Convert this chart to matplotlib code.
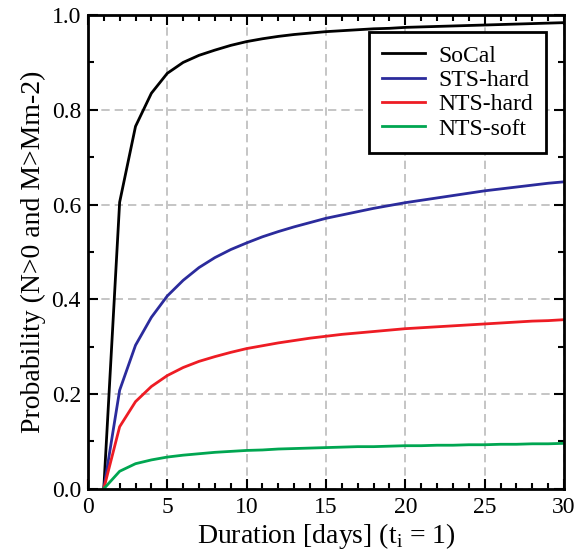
import numpy as np
import matplotlib
matplotlib.use("Agg")
import matplotlib.pyplot as plt
from matplotlib.ticker import MultipleLocator

# durations in days
days = np.arange(1, 31)

socal = [0.0, 0.605, 0.765, 0.835, 0.877, 0.900, 0.915, 0.926, 0.936, 0.944,
         0.950, 0.955, 0.959, 0.962, 0.965, 0.967, 0.969, 0.971, 0.972, 0.974,
         0.975, 0.976, 0.977, 0.978, 0.979, 0.980, 0.981, 0.982, 0.983, 0.984]
sts_hard = [0.0, 0.208, 0.303, 0.362, 0.407, 0.440, 0.467, 0.488, 0.505, 0.519,
            0.532, 0.543, 0.553, 0.562, 0.571, 0.578, 0.585, 0.592, 0.598, 0.604,
            0.609, 0.614, 0.619, 0.624, 0.629, 0.633, 0.637, 0.641, 0.645, 0.648]
nts_hard = [0.0, 0.131, 0.184, 0.216, 0.239, 0.256, 0.269, 0.279, 0.288, 0.296,
            0.302, 0.308, 0.313, 0.318, 0.322, 0.326, 0.329, 0.332, 0.335, 0.338,
            0.340, 0.342, 0.344, 0.346, 0.348, 0.350, 0.352, 0.354, 0.355, 0.357]
nts_soft = [0.0, 0.037, 0.053, 0.061, 0.067, 0.071, 0.074, 0.077, 0.079, 0.081,
            0.082, 0.084, 0.085, 0.086, 0.087, 0.088, 0.089, 0.089, 0.090, 0.091,
            0.091, 0.092, 0.092, 0.093, 0.093, 0.094, 0.094, 0.095, 0.095, 0.096]

labels = ["SoCal", "STS-hard", "NTS-hard", "NTS-soft"]
colors = ["black", "#2b2b9c", "#ee1c24", "#00a651"]

plt.rcParams['font.family'] = ['Liberation Serif', 'DejaVu Serif']
plt.rcParams['mathtext.fontset'] = 'custom'
plt.rcParams['mathtext.rm'] = 'Liberation Serif'

fig = plt.figure(figsize=(5.86, 5.58), dpi=100)
ax = fig.add_axes([0.150, 0.124, 0.8125, 0.849])

for series, lab, col in zip([socal, sts_hard, nts_hard, nts_soft], labels, colors):
    ax.plot(days, series, color=col, lw=2, label=lab)

ax.set_xlim(0, 30)
ax.set_ylim(0, 1.0)
ax.xaxis.set_major_locator(MultipleLocator(5))
ax.xaxis.set_minor_locator(MultipleLocator(1))
ax.yaxis.set_major_locator(MultipleLocator(0.2))
ax.yaxis.set_minor_locator(MultipleLocator(0.1))
ax.yaxis.set_major_formatter(plt.FuncFormatter(lambda v, p: f"{v:.1f}"))

ax.tick_params(which='both', direction='in', top=True, right=True, labelsize=17, width=1.5)
ax.tick_params(which='major', length=7)
ax.tick_params(which='minor', length=4)
ax.tick_params(axis='x', pad=6)
ax.tick_params(axis='y', pad=5)
for s in ax.spines.values():
    s.set_linewidth(2)

ax.grid(True, which='major', color='#bbbbbb', ls=(0, (5, 3)), lw=1.2)
ax.set_axisbelow(True)

ax.set_xlabel(r"Duration [days] (t$_\mathrm{i}$ = 1)", fontsize=20, labelpad=2)
ax.set_ylabel("Probability (N>0 and M>Mm-2)", fontsize=20, labelpad=4)

leg = ax.legend(loc='upper right', bbox_to_anchor=(0.963, 0.964), fontsize=17,
                fancybox=False, framealpha=1, edgecolor='black',
                handlelength=1.8, handletextpad=0.6, borderpad=0.55,
                labelspacing=0.12, borderaxespad=0)
leg.get_frame().set_linewidth(2)

fig.savefig("out.png", dpi=100)
